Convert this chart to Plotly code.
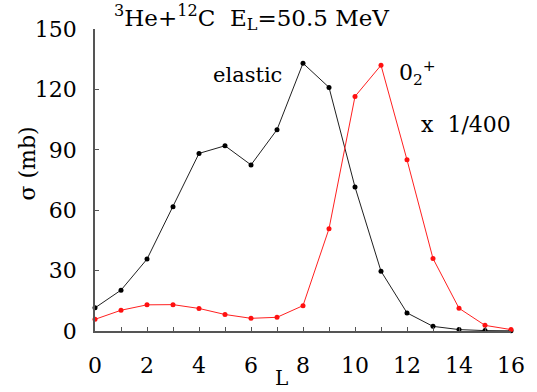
import plotly.graph_objects as go

L = list(range(17))
elastic = [11.5, 20.3, 35.7, 61.7, 88.2, 92.0, 82.5, 100.0, 133.0, 121.0, 71.5,
           29.7, 9.0, 2.3, 0.7, 0.2, 0.1]
o2plus = [5.8, 10.3, 13.0, 13.1, 11.2, 8.2, 6.3, 6.8, 12.6, 50.8, 116.5,
          132.0, 85.0, 36.0, 11.3, 2.8, 0.7]
yticks = [0, 30, 60, 90, 120, 150]
xticks = [0, 2, 4, 6, 8, 10, 12, 14, 16]

FONT = "DejaVu Serif"

W, H = 537, 392
ML, MR, MT, MB = 95, 23, 29, 61
PW, PH = W - ML - MR, H - MT - MB


def px(x):
    return (x - ML) / PW


def py(y):
    return (H - MB - y) / PH


fig = go.Figure()
fig.add_trace(go.Scatter(x=L, y=elastic, mode="lines+markers",
                         line=dict(color="#202020", width=1),
                         marker=dict(color="black", size=5),
                         cliponaxis=False, showlegend=False))
fig.add_trace(go.Scatter(x=L, y=o2plus, mode="lines+markers",
                         line=dict(color="#ff2020", width=1),
                         marker=dict(color="#ff1010", size=5),
                         cliponaxis=False, showlegend=False))

tf = dict(family=FONT, size=22, color="black")
fig.update_layout(
    width=W, height=H,
    margin=dict(l=ML, r=MR, t=MT, b=MB),
    paper_bgcolor="white", plot_bgcolor="white",
    font=dict(family=FONT, size=22, color="black"),
    xaxis=dict(range=[0, 16], tickvals=xticks, ticks="inside", ticklen=4,
               tickcolor="#555", showline=True, linecolor="#555", linewidth=1.5,
               showgrid=False, zeroline=False, ticklabelstandoff=14, tickfont=tf,
               minor=dict(tickvals=list(range(17)), ticks="inside", ticklen=4, tickcolor="#555")),
    yaxis=dict(range=[0, 150], tickvals=yticks, ticks="inside", ticklen=4,
               tickcolor="#555", showline=True, linecolor="#555", linewidth=1.5,
               showgrid=False, zeroline=False, ticklabelstandoff=12, tickfont=tf),
    annotations=[
        dict(x=px(112), y=py(18), xref="paper", yref="paper", xanchor="left", yanchor="middle",
             text="<sup>3</sup>He+<sup>12</sup>C&nbsp;&nbsp;E<sub>L</sub>=50.5 MeV",
             showarrow=False, font=dict(family=FONT, size=23)),
        dict(x=px(212), y=py(75), xref="paper", yref="paper", xanchor="left", yanchor="middle",
             text="elastic", showarrow=False, font=dict(family=FONT, size=21)),
        dict(x=px(399), y=py(73), xref="paper", yref="paper", xanchor="left", yanchor="middle",
             text="0<sub>2</sub><sup>+</sup>", showarrow=False, font=dict(family=FONT, size=22)),
        dict(x=px(421), y=py(125), xref="paper", yref="paper", xanchor="left", yanchor="middle",
             text="x&nbsp;&nbsp;1/400", showarrow=False, font=dict(family=FONT, size=22)),
        dict(x=px(27), y=py(163), xref="paper", yref="paper",
             xanchor="center", yanchor="middle", textangle=-90,
             text="σ (mb)", showarrow=False, font=dict(family=FONT, size=22)),
        dict(x=px(283), y=py(378), xref="paper", yref="paper", xanchor="center", yanchor="middle",
             text="L", showarrow=False, font=dict(family=FONT, size=20)),
    ],
)

fig.write_html("out.html")
